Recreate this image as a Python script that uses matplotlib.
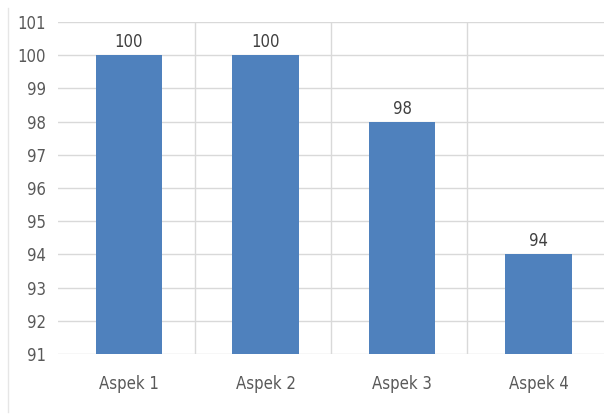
import matplotlib
matplotlib.use('Agg')
import matplotlib.pyplot as plt
from matplotlib.lines import Line2D
from matplotlib import font_manager

categories = ['Aspek 1', 'Aspek 2', 'Aspek 3', 'Aspek 4']
values = [100, 100, 98, 94]
y_ticks = list(range(91, 102))

# pick a narrow font if one is installed
names = {f.name for f in font_manager.fontManager.ttflist}
narrow = [n for n in ['Liberation Sans Narrow', 'DejaVu Sans Condensed'] if n in names]
plt.rcParams['font.family'] = narrow + ['DejaVu Sans']
plt.rcParams['font.stretch'] = 'condensed'

fig = plt.figure(figsize=(6.14, 4.2), dpi=100)
ax = fig.add_axes([0.0945, 0.157, 0.8892, 0.791])

x = range(len(categories))
ax.bar([xi + 0.02 for xi in x], values, width=0.49, color='#4F81BD', zorder=3)

for xi, v in zip(x, values):
    ax.text(xi + 0.02, v + 0.12, str(v), ha='center', va='bottom', fontsize=12, color='#404040')

ax.set_ylim(91, 101)
ax.set_xlim(-0.5, len(categories) - 0.5)
ax.set_yticks(y_ticks)
ax.set_xticks([xi + 0.02 for xi in x])
ax.set_xticklabels(categories)
ax.tick_params(axis='both', length=0, labelsize=12, colors='#595959')
ax.tick_params(axis='x', pad=15)
ax.tick_params(axis='y', pad=9)

# horizontal gridlines
ax.grid(axis='y', color='#D9D9D9', linewidth=1, zorder=0)
# vertical gridlines between categories
for b in [0.5, 1.5, 2.5]:
    ax.axvline(b, color='#D9D9D9', linewidth=1, zorder=0)

for s in ax.spines.values():
    s.set_visible(False)

# faint frame line on the left
fig.add_artist(Line2D([8 / 614, 8 / 614], [0.02, 0.98], transform=fig.transFigure,
                      color='#E6E6E6', linewidth=1))

fig.savefig('out.png', dpi=100)
